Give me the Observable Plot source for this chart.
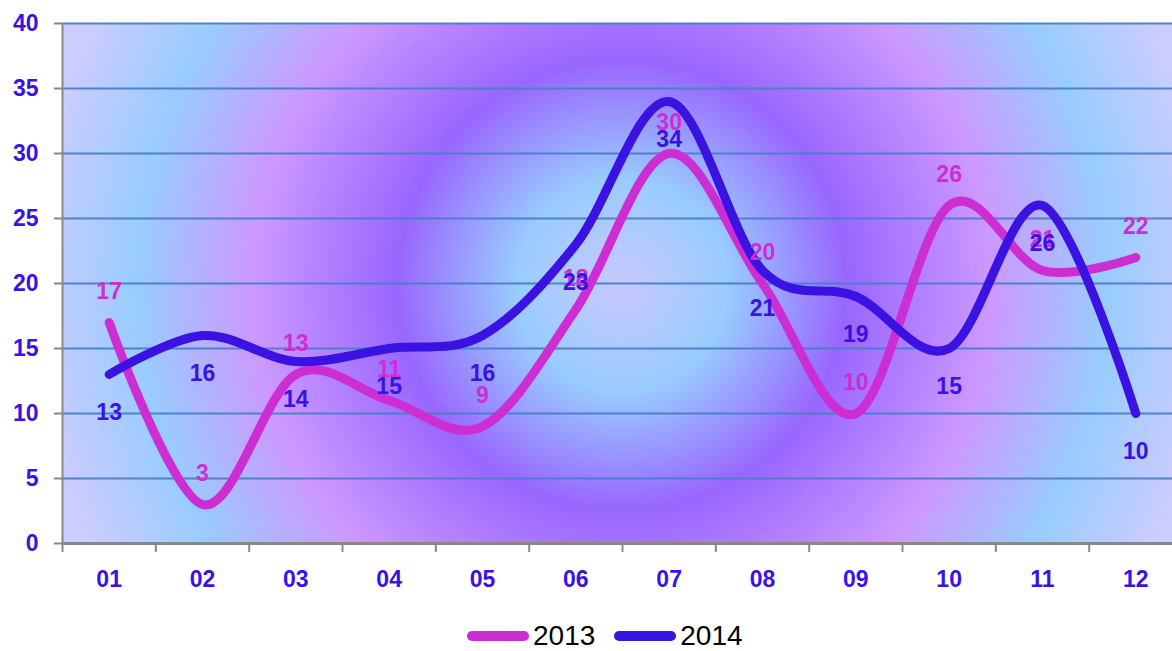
<!DOCTYPE html>
<html><head><meta charset="utf-8">
<script src="https://cdn.jsdelivr.net/npm/d3@7"></script>
<script src="https://cdn.jsdelivr.net/npm/@observablehq/plot@0.6"></script>
<style>
body{margin:0;background:#fff;}
#wrap{position:relative;width:1172px;height:651px;overflow:hidden;}
#bg{position:absolute;left:62px;top:23px;width:1120px;height:520px;
background:radial-gradient(circle at 560px 262px,#c8c8ff 0px,#99ccff 105px,#9966ff 225px,#cc99ff 370px,#99ccff 485px,#ccccff 590px);}
#chart{position:absolute;left:0;top:0;}
#legend{position:absolute;left:467px;top:620px;display:flex;align-items:center;font-family:"Liberation Sans",Arial,sans-serif;font-size:28px;color:#000;}
.sw{width:62px;height:10px;border-radius:5px;margin-right:4px;}
.item{display:flex;align-items:center;margin-right:19px;}
</style></head>
<body>
<div id="wrap"><div id="bg"></div><div id="chart"></div><div id="legend"></div></div>
<script>
const months = ["01","02","03","04","05","06","07","08","09","10","11","12"];
const v2013 = [17,3,13,11,9,18,30,20,10,26,21,22];
const v2014 = [13,16,14,15,16,23,34,21,19,15,26,10];
const series = ["2013","2014"];
const colors = ["#cc2ed4","#3a12e2"];
const yTicks = [0,5,10,15,20,25,30,35,40];
const labelColor = "#3a12e8";

const rows = [];
months.forEach((m,i)=>{
  rows.push({x:i+0.5, m, v:v2013[i], s:"2013"});
  rows.push({x:i+0.5, m, v:v2014[i], s:"2014"});
});
const r13 = rows.filter(d=>d.s==="2013");
const r14 = rows.filter(d=>d.s==="2014");
const font = "Liberation Sans, Arial, sans-serif";

const chart = Plot.plot({
  width:1172, height:600,
  marginLeft:62, marginTop:23, marginBottom:57, marginRight:0,
  style:{background:"transparent", fontFamily:font},
  x:{type:"linear", domain:[0,months.length], range:[62,1182]},
  y:{domain:[0,40], range:[543,23]},
  color:{domain:series, range:colors},
  marks:[
    Plot.gridY(yTicks, {stroke:"#4a7ec8", strokeOpacity:0.95, strokeWidth:2}),
    Plot.ruleX([0], {stroke:"#888", strokeWidth:2}),
    Plot.ruleY([0], {stroke:"#888", strokeWidth:3}),
    Plot.axisY(yTicks, {tickSize:8, tickPadding:16, stroke:"#888", strokeWidth:2, fill:labelColor, fontSize:23, fontWeight:"bold", label:null}),
    Plot.axisX(d3.range(months.length+1), {tickSize:9, tickFormat:()=>"", stroke:"#888", strokeWidth:2, label:null}),
    Plot.axisX(months.map((m,i)=>i+0.5), {tickSize:0, tickPadding:27, tickFormat:d=>months[Math.round(d-0.5)], fill:labelColor, fontSize:23, fontWeight:"bold", label:null}),
    Plot.line(r13, {x:"x", y:"v", stroke:"s", strokeWidth:9, curve:"cardinal", tension:0, strokeLinecap:"round", strokeLinejoin:"round"}),
    Plot.line(r14, {x:"x", y:"v", stroke:"s", strokeWidth:9, curve:"cardinal", tension:0, strokeLinecap:"round", strokeLinejoin:"round"}),
    Plot.text(r13, {x:"x", y:"v", text:d=>String(d.v), dy:-31, fill:colors[0], fontSize:23, fontWeight:"bold"}),
    Plot.text(r14, {x:"x", y:"v", text:d=>String(d.v), dy:38, fill:colors[1], fontSize:23, fontWeight:"bold"})
  ]
});
document.getElementById("chart").appendChild(chart);

const legend = document.getElementById("legend");
series.forEach((s,i)=>{
  const it = document.createElement("div"); it.className="item";
  const sw = document.createElement("div"); sw.className="sw"; sw.style.background=colors[i];
  const t = document.createElement("span"); t.textContent=s;
  it.appendChild(sw); it.appendChild(t); legend.appendChild(it);
});
</script>
</body></html>
